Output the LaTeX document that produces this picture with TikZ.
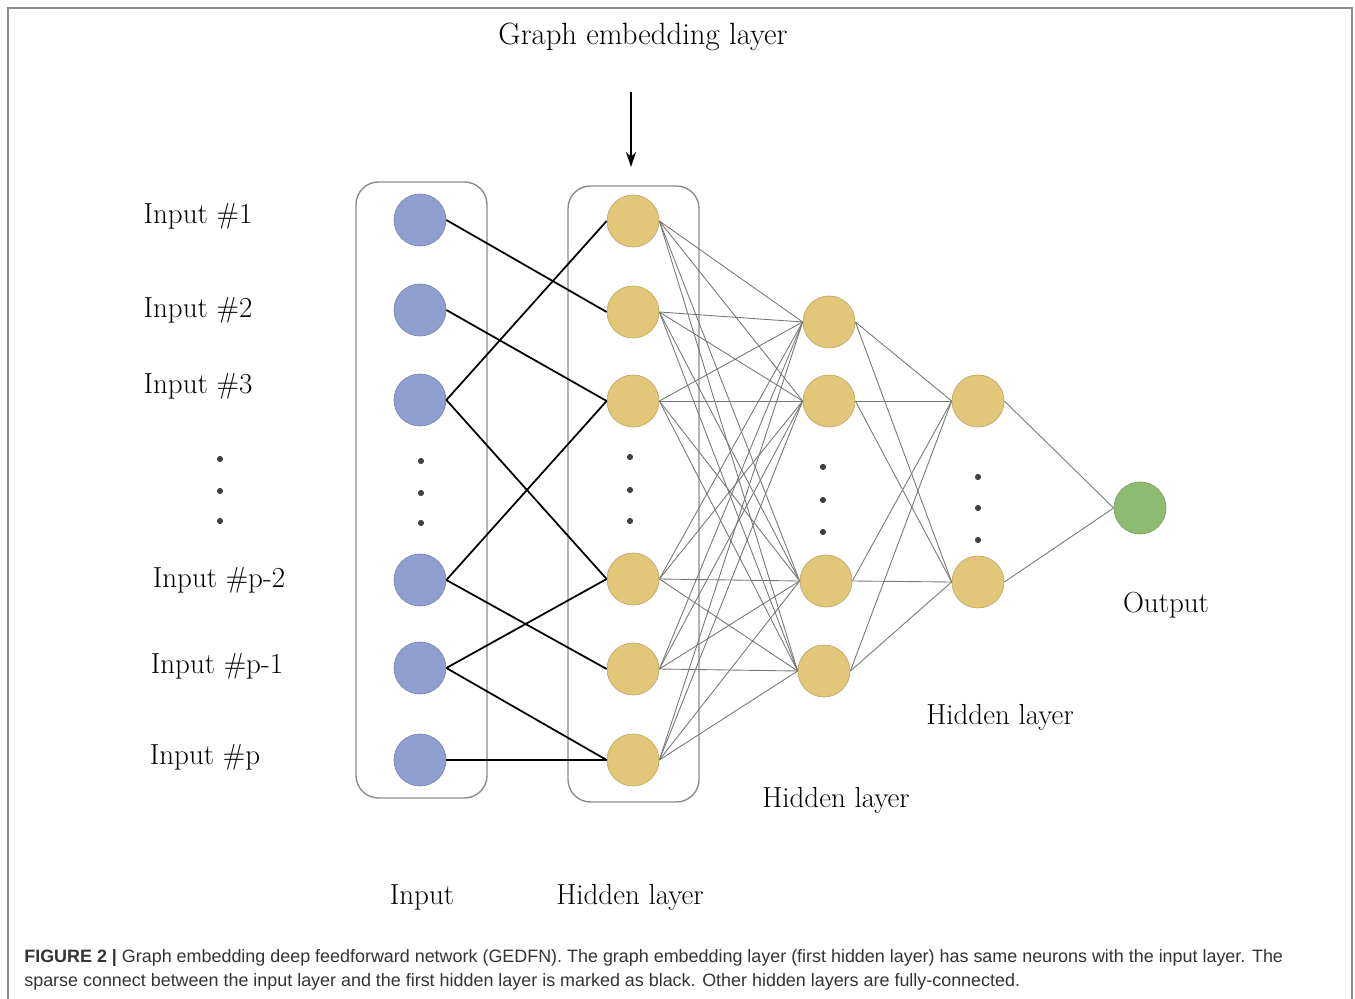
\documentclass[tikz,border=0pt]{standalone}
\usepackage{fontspec}
\newfontfamily\capfont{Liberation Sans}
\usepackage{tikz}
\usetikzlibrary{arrows.meta, positioning}
\definecolor{inputcolor}{HTML}{8E9FD0}
\definecolor{hiddencolor}{HTML}{E3C778}
\definecolor{outputcolor}{HTML}{8DBB72}
\definecolor{framecolor}{HTML}{8C8C8C}
\definecolor{wirecolor}{HTML}{777777}

\begin{document}
\begin{tikzpicture}[
    x=0.02cm, y=-0.02cm,
    neuron/.style={circle, draw=#1!85!black, fill=#1, line width=0.4pt,
                   minimum size=1.04cm, inner sep=0pt},
    layerbox/.style={draw=framecolor, rounded corners=0.45cm, line width=0.8pt},
    sparse/.style={black, line width=1pt},
    dense/.style={wirecolor, line width=0.5pt},
    lbl/.style={font=\fontsize{16.5}{20}\selectfont, inner sep=0pt},
    dotmark/.style={circle, fill=black!75, inner sep=0pt, minimum size=3.5pt}
]
    \useasboundingbox (0,0) rectangle (1355,999);
    \draw[framecolor, line width=1pt] (8,999) -- (8,8) -- (1352,8) -- (1352,999);

    % layer boxes
    \draw[layerbox] (356,182) rectangle (487,798);
    \draw[layerbox] (568,186) rectangle (699,802);

    % input layer
    \node[neuron=inputcolor] (in1) at (420,220) {};
    \node[neuron=inputcolor] (in2) at (420,310) {};
    \node[neuron=inputcolor] (in3) at (420,400) {};
    \node[neuron=inputcolor] (in4) at (420,580) {};
    \node[neuron=inputcolor] (in5) at (420,668) {};
    \node[neuron=inputcolor] (in6) at (420,760) {};

    % graph embedding layer
    \node[neuron=hiddencolor] (h1) at (633,221) {};
    \node[neuron=hiddencolor] (h2) at (633,312) {};
    \node[neuron=hiddencolor] (h3) at (633,401) {};
    \node[neuron=hiddencolor] (h4) at (633,579) {};
    \node[neuron=hiddencolor] (h5) at (633,669) {};
    \node[neuron=hiddencolor] (h6) at (633,760) {};

    % hidden layers
    \node[neuron=hiddencolor] (g1) at (829,322) {};
    \node[neuron=hiddencolor] (g2) at (829,401) {};
    \node[neuron=hiddencolor] (g3) at (826,581) {};
    \node[neuron=hiddencolor] (g4) at (824,671) {};
    \node[neuron=hiddencolor] (k1) at (978,401) {};
    \node[neuron=hiddencolor] (k2) at (978,582) {};
    \node[neuron=outputcolor] (out) at (1140,508) {};

    % dots
    \foreach \y in {459,491,521} \node[dotmark] at (220,\y) {};
    \foreach \y in {461,493,523} \node[dotmark] at (421,\y) {};
    \foreach \y in {457,490,521} \node[dotmark] at (630,\y) {};
    \foreach \y in {467,500,532} \node[dotmark] at (823,\y) {};
    \foreach \y in {477,508,540} \node[dotmark] at (978,\y) {};

    % sparse connections
    \draw[sparse] (in1.east) -- (h2.west);
    \draw[sparse] (in2.east) -- (h3.west);
    \draw[sparse] (in3.east) -- (h1.west);
    \draw[sparse] (in3.east) -- (h4.west);
    \draw[sparse] (in4.east) -- (h3.west);
    \draw[sparse] (in4.east) -- (h5.west);
    \draw[sparse] (in5.east) -- (h4.west);
    \draw[sparse] (in5.east) -- (h6.west);
    \draw[sparse] (in6.east) -- (h6.west);

    % dense connections
    \foreach \i in {1,...,6}
        \foreach \j in {1,...,4}
            \draw[dense] (h\i.east) -- (g\j.west);
    \foreach \i in {1,...,4}
        \foreach \j in {1,2}
            \draw[dense] (g\i.east) -- (k\j.west);
    \draw[dense] (k1.east) -- (out.west);
    \draw[dense] (k2.east) -- (out.west);

    % labels
    \node[lbl] (lab1) at (198,216) {Input \#1};
    \node[lbl] (lab2) at (198,310) {Input \#2};
    \node[lbl] (lab3) at (198,386) {Input \#3};
    \node[lbl] (lab4) at (219,580) {Input \#p-2};
    \node[lbl] (lab5) at (217,666) {Input \#p-1};
    \node[lbl] (lab6) at (205,757) {Input \#p};
    \node[lbl] (inlab) at (422,897) {Input};
    \node[lbl] (hlab1) at (630,897) {Hidden layer};
    \node[lbl] (hlab2) at (836,800) {Hidden layer};
    \node[lbl] (hlab3) at (1000,717) {Hidden layer};
    \node[lbl] (outlab) at (1166,605) {Output};
    \node[lbl, font=\fontsize{17.5}{20}\selectfont] (emb) at (643,37) {Graph embedding layer};

    \coordinate (arrtop) at (631,92);
    \coordinate (arrtip) at (631,167);
    \draw[-{Stealth[length=3mm, width=2mm]}, line width=0.8pt] (arrtop) -- (arrtip);

    % caption
    \node[anchor=west, align=left, inner sep=0pt, text=black!80,
          font=\capfont\fontsize{10.2}{14}\selectfont] (cap) at (24,970)
        {\textbf{FIGURE 2 |} Graph embedding deep feedforward network (GEDFN). The graph embedding layer (first hidden layer) has same neurons with the input layer. The\\
         sparse connect between the input layer and the first hidden layer is marked as black. Other hidden layers are fully-connected.};
\end{tikzpicture}
\end{document}
